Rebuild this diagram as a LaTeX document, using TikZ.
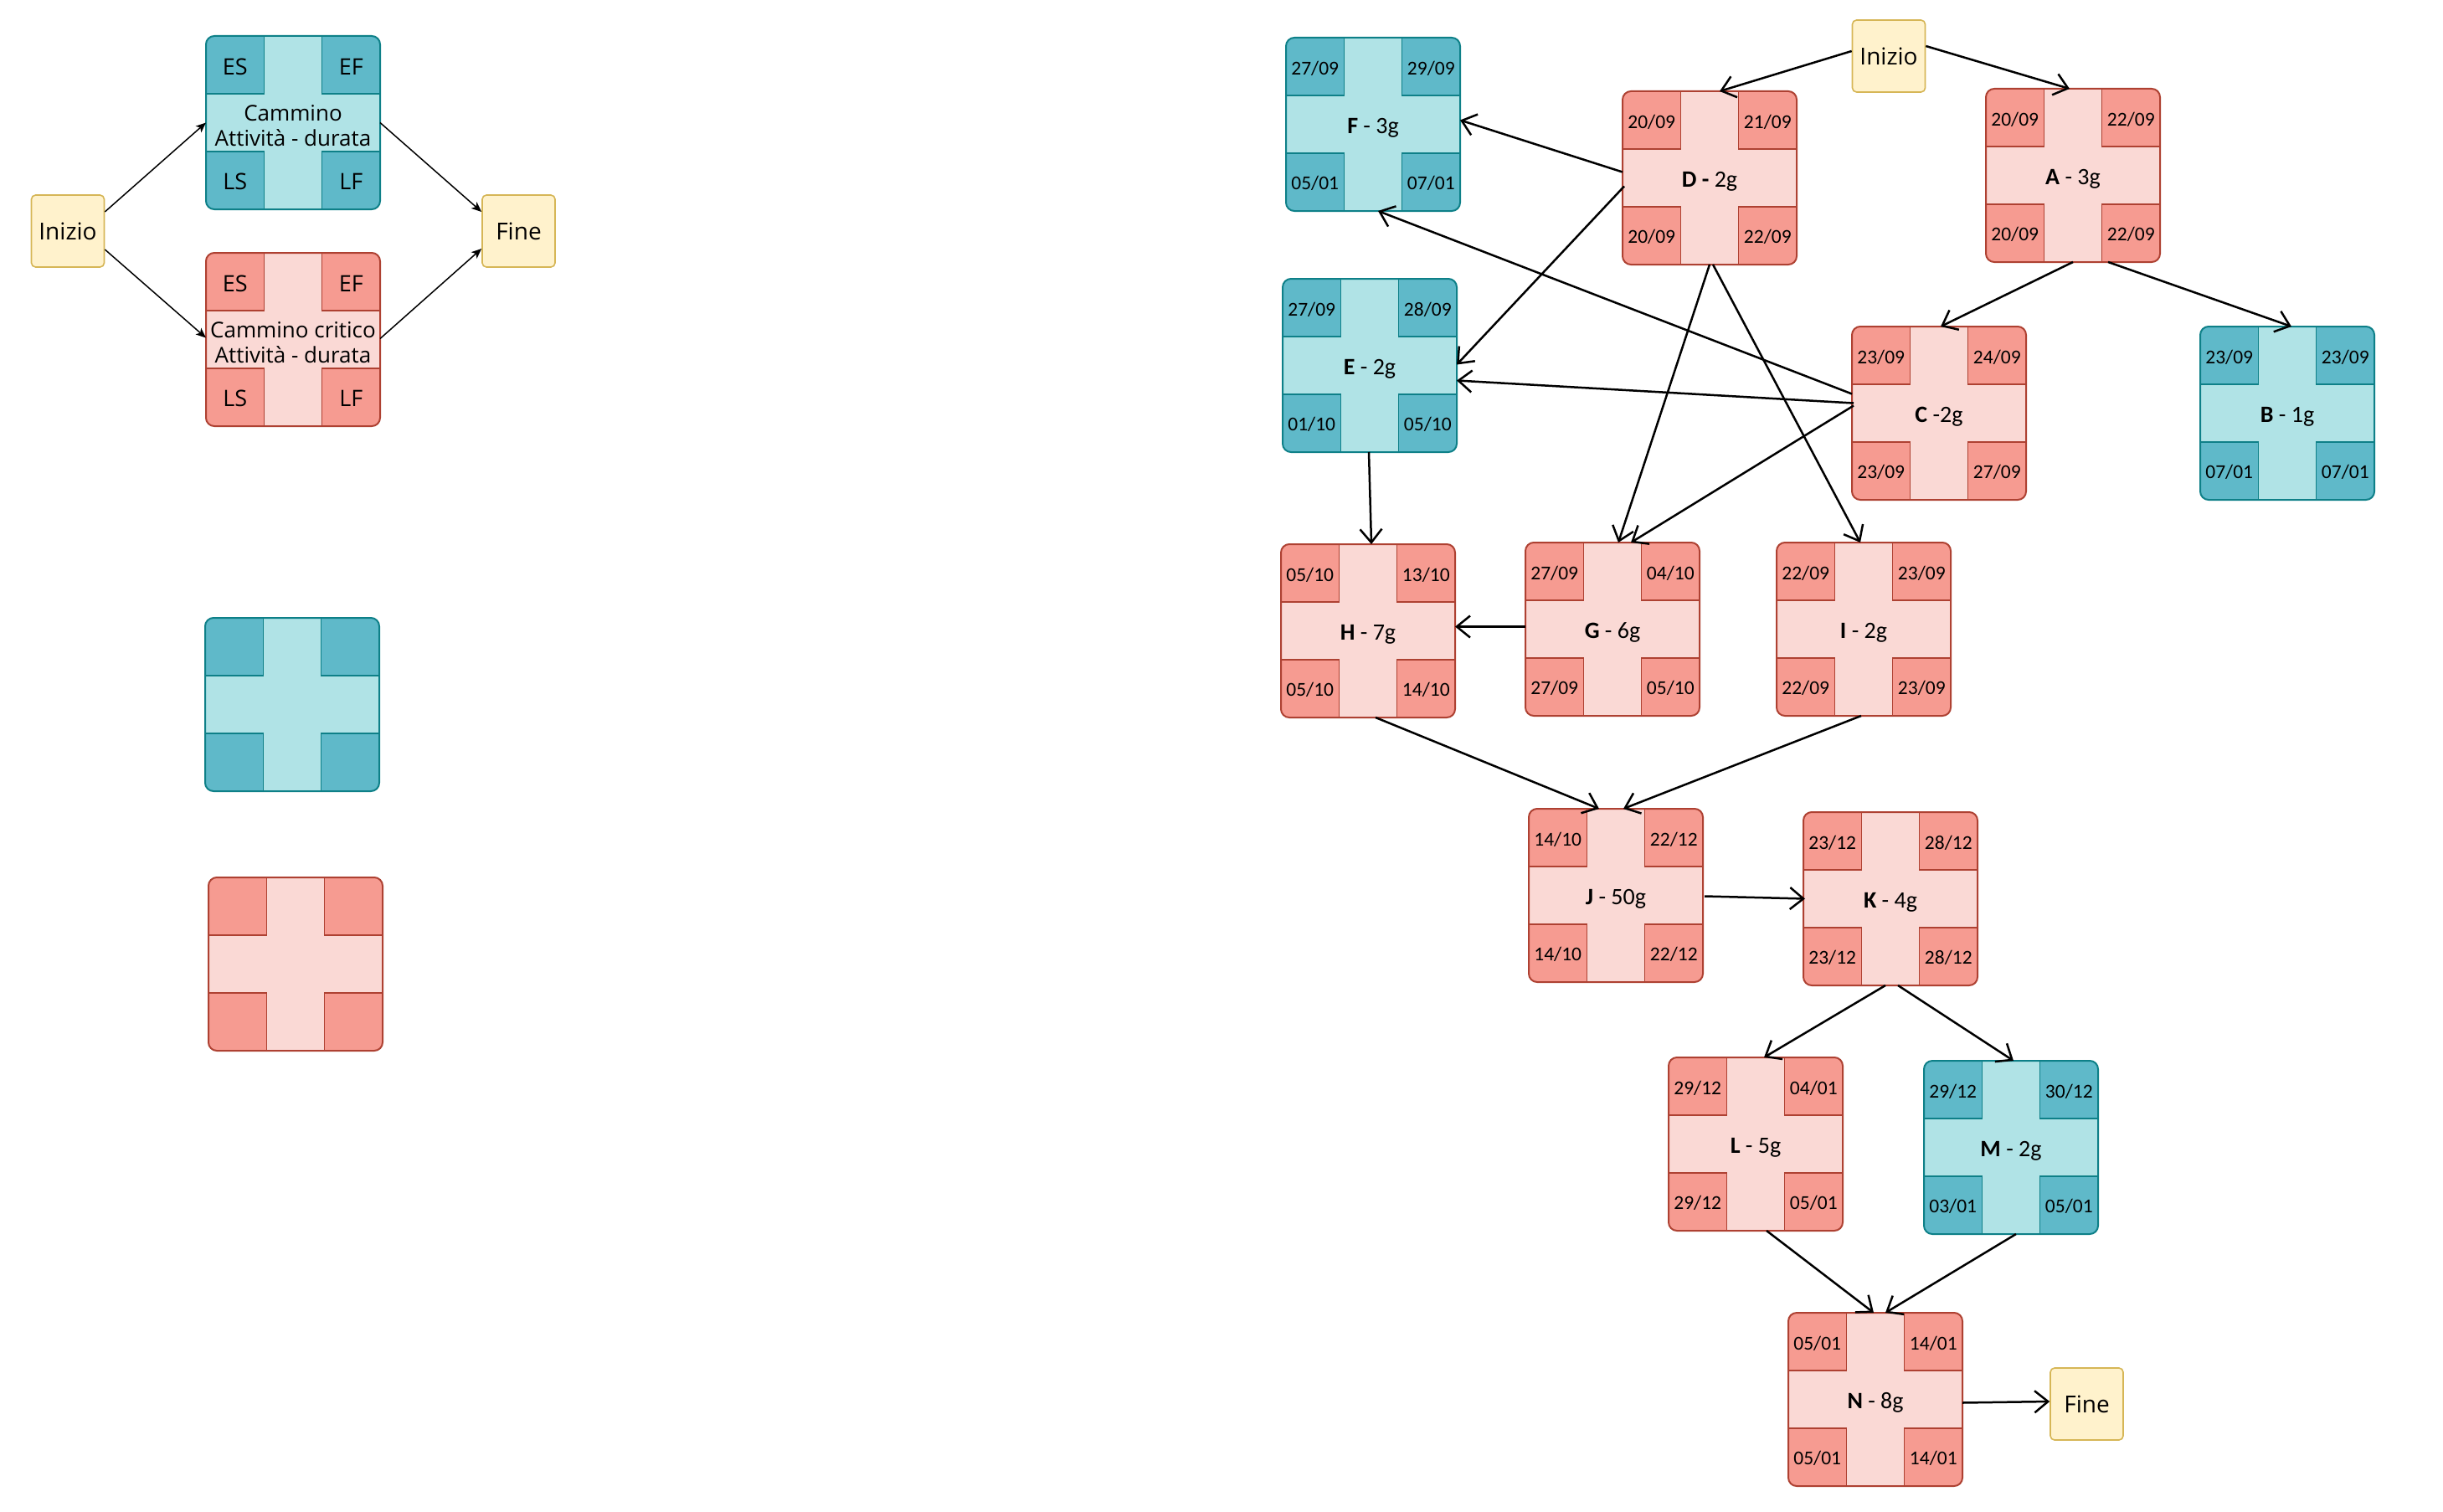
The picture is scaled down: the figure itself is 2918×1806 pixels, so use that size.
\documentclass[tikz,border=0pt]{standalone}
\usepackage{fontspec}
\setmainfont{Carlito}
\newfontfamily\legfont{Open Sans}
\usetikzlibrary{arrows.meta,calc}
\definecolor{tealL}{HTML}{B0E3E6}
\definecolor{tealD}{HTML}{5FB9C9}
\definecolor{tealS}{HTML}{0E8088}
\definecolor{pinkL}{HTML}{FAD9D5}
\definecolor{pinkD}{HTML}{F69B91}
\definecolor{pinkS}{HTML}{AE4132}
\definecolor{yelF}{HTML}{FFF2CC}
\definecolor{yelS}{HTML}{D6B656}
\tikzset{
  pbox/.style={rectangle, minimum width=208pt, minimum height=207pt, inner sep=0pt, outer sep=0pt, rounded corners=10pt},
  dt/.style={inner sep=0pt, font=\fontsize{23.5}{28}\selectfont},
  lbl/.style={inner sep=0pt, align=center, font=\fontsize{28}{32}\selectfont},
  term/.style={rectangle, rounded corners=5pt, fill=yelF, draw=yelS, line width=1.6pt, minimum width=87pt, minimum height=86pt, inner sep=0pt, font=\legfont\fontsize{28}{32}\selectfont},
  arr/.style={line width=2.5pt, -{Straight Barb[length=16pt,width=26pt]}},
  larr/.style={line width=1.5pt, -{Stealth[length=12pt,width=10pt,inset=3pt]}}
}
\newcommand{\pertbox}[8]{%
  \node[pbox, fill=#3L] (#1) at (#2) {};
  \begin{scope}
    \clip[rounded corners=10pt] (#1.north west) rectangle (#1.south east);
    \draw[fill=#3D, draw=#3S, line width=1.4pt] (#1.north west) rectangle ++(69.3,69);
    \draw[fill=#3D, draw=#3S, line width=1.4pt] (#1.north east) rectangle ++(-69.3,69);
    \draw[fill=#3D, draw=#3S, line width=1.4pt] (#1.south west) rectangle ++(69.3,-69);
    \draw[fill=#3D, draw=#3S, line width=1.4pt] (#1.south east) rectangle ++(-69.3,-69);
  \end{scope}
  \draw[draw=#3S, line width=2pt, rounded corners=10pt] (#1.north west) rectangle (#1.south east);
  \node[dt] (#1-es) at ($(#1.north west)+(34.7,37)$) {#4};
  \node[dt] (#1-ef) at ($(#1.north east)+(-34.7,37)$) {#5};
  \node[dt] (#1-ls) at ($(#1.south west)+(34.7,-33)$) {#6};
  \node[dt] (#1-lf) at ($(#1.south east)+(-34.7,-33)$) {#7};
  \node[lbl] (#1-lb) at ($(#1.center)+(0,4)$) {#8};
}
\begin{document}
\begin{tikzpicture}[x=1pt,y=-1pt]
\useasboundingbox[fill=white] (0,0) rectangle (2918,1806);

% ---------------- legend ----------------
\begin{scope}[dt/.style={inner sep=0pt, font=\legfont\fontsize{27}{30}\selectfont},
              lbl/.style={inner sep=0pt, align=center, font=\legfont\fontsize{26}{30}\selectfont}]
\pertbox{TL}{350,146.5}{teal}{ES}{EF}{LS}{LF}{Cammino\\Attività - durata}
\pertbox{PL}{350,405.5}{pink}{ES}{EF}{LS}{LF}{Cammino critico\\Attività - durata}
\end{scope}
\node[term] (IzL) at (81,276) {Inizio};
\node[term] (FnL) at (619.5,276) {Fine};
\draw[larr] ($(IzL.east)+(0,-23)$) -- (TL.west);
\draw[larr] ($(IzL.east)+(0,22)$) -- ($(PL.west)+(0,-2)$);
\draw[larr] (TL.east) -- ($(FnL.west)+(0,-23)$);
\draw[larr] ($(PL.east)+(0,-1)$) -- ($(FnL.west)+(0,21)$);

\pertbox{TP}{349,841.5}{teal}{}{}{}{}{}
\pertbox{PP}{353,1151.5}{pink}{}{}{}{}{}

% ---------------- network ----------------
\node[term] (Iz) at (2256,67) {Inizio};
\node[term] (Fn) at (2492.5,1677) {Fine};

\pertbox{F}{1640,148.5}{teal}{27/09}{29/09}{05/01}{07/01}{\textbf{F} - 3g}
\pertbox{D}{2042,212.5}{pink}{20/09}{21/09}{20/09}{22/09}{\textbf{D -} 2g}
\pertbox{A}{2476,209.5}{pink}{20/09}{22/09}{20/09}{22/09}{\textbf{A} - 3g}
\pertbox{C}{2316,493.5}{pink}{23/09}{24/09}{23/09}{27/09}{\textbf{C} -2g}
\pertbox{B}{2732,493.5}{teal}{23/09}{23/09}{07/01}{07/01}{\textbf{B} - 1g}
\pertbox{E}{1636,436.5}{teal}{27/09}{28/09}{01/10}{05/10}{\textbf{E} - 2g}
\pertbox{H}{1634,753.5}{pink}{05/10}{13/10}{05/10}{14/10}{\textbf{H} - 7g}
\pertbox{G}{1926,751.5}{pink}{27/09}{04/10}{27/09}{05/10}{\textbf{G} - 6g}
\pertbox{I}{2226,751.5}{pink}{22/09}{23/09}{22/09}{23/09}{\textbf{I} - 2g}
\pertbox{J}{1930,1069.5}{pink}{14/10}{22/12}{14/10}{22/12}{\textbf{J} - 50g}
\pertbox{K}{2258,1073.5}{pink}{23/12}{28/12}{23/12}{28/12}{\textbf{K} - 4g}
\pertbox{L}{2097,1366.5}{pink}{29/12}{04/01}{29/12}{05/01}{\textbf{L} - 5g}
\pertbox{M}{2402,1370.5}{teal}{29/12}{30/12}{03/01}{05/01}{\textbf{M} - 2g}
\pertbox{N}{2240,1671.5}{pink}{05/01}{14/01}{05/01}{14/01}{\textbf{N} - 8g}

\draw[arr] ($(Iz.west)+(0,-6)$) -- ($(D.north)+(12,0)$);
\draw[arr] ($(Iz.east)+(0,-12)$) -- ($(A.north)+(-4,0)$);
\draw[arr] ($(D.west)+(0,-7)$) -- ($(F.east)+(0,-5)$);
\draw[arr] ($(D.west)+(2,10)$) -- ($(E.east)+(0,-1)$);
\draw[arr] ($(C.west)+(0,-23)$) -- ($(F.south)+(6,0)$);
\draw[arr] ($(C.west)+(2,-12)$) -- ($(E.east)+(0,18)$);
\draw[arr] ($(C.west)+(2,-9)$) -- ($(G.north)+(22,0)$);
\draw[arr] (D.south) -- ($(G.north)+(7,0)$);
\draw[arr] ($(D.south)+(4,0)$) -- ($(I.north)+(-4,0)$);
\draw[arr] (A.south) -- ($(C.north)+(2,0)$);
\draw[arr] ($(A.south)+(42,0)$) -- ($(B.north)+(5,0)$);
\draw[arr] ($(E.south)+(-1,0)$) -- ($(H.north)+(4,0)$);
\draw[arr] ($(G.west)+(0,-3)$) -- ($(H.east)+(0,-5)$);
\draw[arr] ($(H.south)+(9,0)$) -- ($(J.north)+(-20,0)$);
\draw[arr] ($(I.south)+(-3,0)$) -- ($(J.north)+(9,0)$);
\draw[arr] ($(J.east)+(2,1)$) -- ($(K.west)+(2,0)$);
\draw[arr] ($(K.south)+(-6,0)$) -- ($(L.north)+(10,0)$);
\draw[arr] ($(K.south)+(9,0)$) -- ($(M.north)+(3,0)$);
\draw[arr] ($(L.south)+(13,0)$) -- ($(N.north)+(-2,0)$);
\draw[arr] ($(M.south)+(6,0)$) -- ($(N.north)+(12,0)$);
\draw[arr] ($(N.east)+(0,4)$) -- ($(Fn.west)+(0,-3)$);
\end{tikzpicture}
\end{document}
